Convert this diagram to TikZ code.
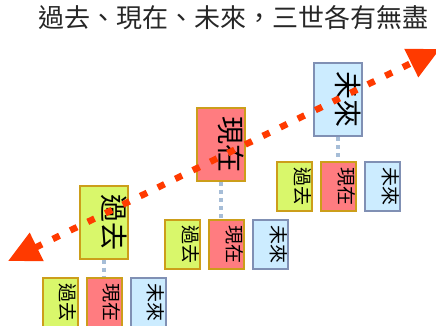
\documentclass[tikz,border=0pt]{standalone}
\usepackage{fontspec}
\usepackage{graphicx}
\newfontfamily\cjk{Noto Sans CJK TC}
\usetikzlibrary{positioning,arrows.meta}

\definecolor{pastfill}{HTML}{D9F76B}
\definecolor{pastline}{HTML}{CC9E1A}
\definecolor{nowfill}{HTML}{FF7C80}
\definecolor{futfill}{HTML}{CCECFF}
\definecolor{futline}{HTML}{8090B4}
\definecolor{linkgray}{HTML}{A6BDD7}
\definecolor{timered}{HTML}{FF3A00}

\newcommand{\vtext}[1]{\rotatebox{-90}{#1}}

\tikzset{
  era/.style={draw, line width=2pt, inner xsep=1pt, inner ysep=0pt, align=right},
  bigbox/.style={era, text width=46pt, minimum height=73pt, font=\cjk\fontsize{28}{28}\selectfont},
  smallbox/.style={era, text width=33pt, minimum height=49pt, font=\cjk\fontsize{19}{19}\selectfont},
  past/.style={fill=pastfill, draw=pastline},
  now/.style={fill=nowfill, draw=pastline},
  fut/.style={fill=futfill, draw=futline},
  link/.style={linkgray, line width=4pt, dash pattern=on 4pt off 4pt},
  timeline/.style={timered, line width=6.5pt, dash pattern=on 7.5pt off 12pt,
    {Triangle[length=32pt,width=30pt]}-{Triangle[length=32pt,width=30pt]}},
  title/.style={font=\cjk\fontsize{26}{26}\selectfont, text=black!85}
}

\begin{document}
\begin{tikzpicture}[x=1pt,y=1pt]
\useasboundingbox (0,0) rectangle (436,325);
\clip (0,0) rectangle (436,325);

\node[title] (head) at (233.5,307) {過去、現在、未來，三世各有無盡};

% the three big eras
\node[bigbox,past] (pastBig) at (104,103) {\vtext{過去}};
\node[bigbox,now] (nowBig) at (221,180.5) {\vtext{現在}};
\node[bigbox,fut] (futBig) at (338,225.5) {\vtext{未來}};

% each one holds its own past, present and future
\node[smallbox,now] (pastNow) at (104,22.5) {\vtext{現在}};
\node[smallbox,past,left=7pt of pastNow] (pastPast) {\vtext{過去}};
\node[smallbox,fut,right=7pt of pastNow] (pastFut) {\vtext{未來}};

\node[smallbox,now] (nowNow) at (226.5,80.5) {\vtext{現在}};
\node[smallbox,past,left=7pt of nowNow] (nowPast) {\vtext{過去}};
\node[smallbox,fut,right=7pt of nowNow] (nowFut) {\vtext{未來}};

\node[smallbox,now] (futNow) at (338.5,139) {\vtext{現在}};
\node[smallbox,past,left=7pt of futNow] (futPast) {\vtext{過去}};
\node[smallbox,fut,right=7pt of futNow] (futFut) {\vtext{未來}};

\draw[link] (pastBig.south) -- (pastBig.south |- pastNow.north);
\draw[link] (nowBig.south) -- (nowBig.south |- nowNow.north);
\draw[link] (futBig.south) -- (futBig.south |- futNow.north);

% time runs both ways
\coordinate (pastEnd) at (8,64);
\coordinate (futEnd) at (440,276);
\draw[timeline] (pastEnd) -- (futEnd);
\end{tikzpicture}
\end{document}
